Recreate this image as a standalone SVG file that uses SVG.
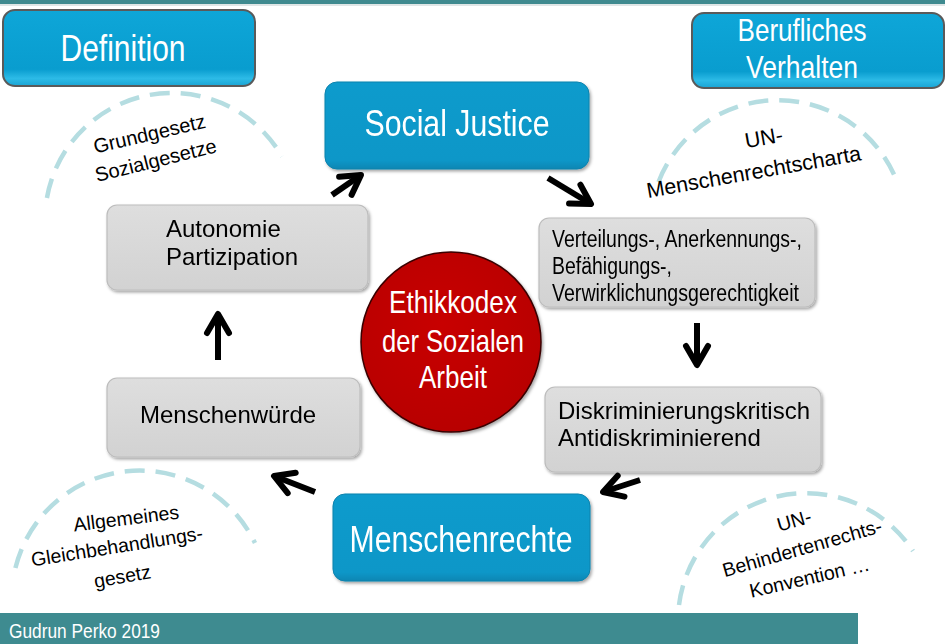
<svg xmlns="http://www.w3.org/2000/svg" width="945" height="644" viewBox="0 0 945 644">
<style>
text{font-family:"Liberation Sans",Arial,sans-serif}
.wt{fill:#fff}
.bk{fill:#000}
.gbox{fill:url(#gg);stroke:#bdbdbd;stroke-width:1.2}
.bbox{fill:url(#bg);stroke:#0a82ad;stroke-width:1}
.hbox{fill:url(#hg);stroke:#5a5a5a;stroke-width:2}
.arc{fill:none;stroke:#b5dde1;stroke-width:4.5;stroke-dasharray:20 11}
.arr{fill:none;stroke:#000;stroke-width:6;marker-end:url(#ah)}
.at{font-size:20px;text-anchor:middle}
.gt{font-size:24px}
</style>
<defs>
<linearGradient id="gg" x1="0" y1="0" x2="0" y2="1"><stop offset="0" stop-color="#dedede"/><stop offset="1" stop-color="#d2d2d2"/></linearGradient>
<linearGradient id="bg" x1="0" y1="0" x2="0" y2="1"><stop offset="0" stop-color="#0a9bcc"/><stop offset="0.9" stop-color="#0897c8"/><stop offset="1" stop-color="#0786b3"/></linearGradient>
<linearGradient id="hg" x1="0" y1="0" x2="0" y2="1"><stop offset="0" stop-color="#0ea6d8"/><stop offset="0.78" stop-color="#099dcf"/><stop offset="0.9" stop-color="#2dbbe7"/><stop offset="1" stop-color="#1aa4d4"/></linearGradient>
<radialGradient id="rg" cx="0.45" cy="0.4" r="0.6"><stop offset="0" stop-color="#c80000"/><stop offset="1" stop-color="#b80000"/></radialGradient>
<filter id="sh" x="-10%" y="-10%" width="125%" height="130%"><feDropShadow dx="1.5" dy="2" stdDeviation="1.5" flood-color="#000" flood-opacity="0.35"/></filter>
<marker id="ah" markerUnits="userSpaceOnUse" markerWidth="50" markerHeight="50" viewBox="-35 -25 50 50" refX="0" refY="0" orient="auto" overflow="visible"><path d="M-19,-11 L0,0 L-19,11" fill="none" stroke="#000" stroke-width="6" stroke-linejoin="round" stroke-linecap="round"/></marker>
</defs>
<rect width="945" height="644" fill="#fff"/>
<rect x="0" y="0" width="945" height="4" fill="#3f8a8f"/>
<line x1="0" y1="5" x2="945" y2="5" stroke="#d5dede" stroke-width="1.5"/>

<g id="arcs">
<path class="arc" d="M46.9,198 A127,127 0 0,1 282,156.5"/>
<path class="arc" d="M658.5,182 A128,128 0 0,1 898,184"/>
<path class="arc" d="M15.4,568 A128,128 0 0,1 255,543"/>
<path class="arc" d="M679,605 A128,128 0 0,1 913,551"/>
</g>

<g id="definition">
<rect class="hbox" x="3" y="10" width="252" height="76" rx="12"/>
<text class="wt" x="123" y="61" font-size="36" text-anchor="middle" textLength="125" lengthAdjust="spacingAndGlyphs">Definition</text>
</g>
<g id="berufliches-verhalten">
<rect class="hbox" x="692" y="13" width="252" height="75" rx="12"/>
<text class="wt" x="802" y="41" font-size="32" text-anchor="middle" textLength="129" lengthAdjust="spacingAndGlyphs">Berufliches</text>
<text class="wt" x="802" y="78" font-size="32" text-anchor="middle" textLength="112" lengthAdjust="spacingAndGlyphs">Verhalten</text>
</g>

<g id="label-definition">
<text class="at" transform="rotate(-13 151 140.5)" x="151" y="140.5">Grundgesetz</text>
<text class="at" transform="rotate(-14 157.5 167)" x="157.5" y="167">Sozialgesetze</text>
</g>
<g id="label-un-charta">
<text class="at" style="font-size:21.5px" transform="rotate(-10 765 145)" x="765" y="145">UN-</text>
<text class="at" style="font-size:21.5px" transform="rotate(-10 755 179)" x="755" y="179">Menschenrechtscharta</text>
</g>
<g id="label-agg">
<text class="at" style="font-size:19.5px" transform="rotate(-7 127 525)" x="127" y="525">Allgemeines</text>
<text class="at" style="font-size:19.5px" transform="rotate(-9 118 553)" x="118" y="553">Gleichbehandlungs-</text>
<text class="at" style="font-size:19.5px" transform="rotate(-10 123.5 583)" x="123.5" y="583">gesetz</text>
</g>
<g id="label-brk">
<text class="at" style="font-size:19.5px" transform="rotate(-16 796 527)" x="796" y="527">UN-</text>
<text class="at" style="font-size:19.5px" transform="rotate(-16 804 554.5)" x="804" y="554.5">Behindertenrechts-</text>
<text class="at" style="font-size:19.5px" transform="rotate(-13 811 584)" x="811" y="584">Konvention …</text>
</g>

<g id="social-justice" filter="url(#sh)">
<rect class="bbox" x="325" y="82" width="264" height="87" rx="12"/>
<text class="wt" x="457" y="136" font-size="36" text-anchor="middle" textLength="185" lengthAdjust="spacingAndGlyphs">Social Justice</text>
</g>
<g id="gerechtigkeit" filter="url(#sh)">
<rect class="gbox" x="539" y="218" width="276" height="89" rx="10"/>
<text class="bk" x="552" y="247" font-size="23.5" textLength="250" lengthAdjust="spacingAndGlyphs">Verteilungs-, Anerkennungs-,</text>
<text class="bk" x="552" y="274" font-size="23.5" textLength="120" lengthAdjust="spacingAndGlyphs">Befähigungs-,</text>
<text class="bk" x="552" y="301" font-size="23.5" textLength="247" lengthAdjust="spacingAndGlyphs">Verwirklichungsgerechtigkeit</text>
</g>
<g id="diskriminierung" filter="url(#sh)">
<rect class="gbox" x="545" y="387" width="276" height="85" rx="10"/>
<text class="bk gt" x="558" y="419">Diskriminierungskritisch</text>
<text class="bk gt" x="558" y="446">Antidiskriminierend</text>
</g>
<g id="menschenrechte" filter="url(#sh)">
<rect class="bbox" x="333" y="494" width="257" height="87" rx="12"/>
<text class="wt" x="461" y="552" font-size="37" text-anchor="middle" textLength="223" lengthAdjust="spacingAndGlyphs">Menschenrechte</text>
</g>
<g id="menschenwuerde" filter="url(#sh)">
<rect class="gbox" x="107" y="378" width="253" height="79" rx="10"/>
<text class="bk gt" x="140" y="423">Menschenwürde</text>
</g>
<g id="autonomie" filter="url(#sh)">
<rect class="gbox" x="107" y="205" width="261" height="85" rx="10"/>
<text class="bk gt" x="166" y="237">Autonomie</text>
<text class="bk gt" x="166" y="265">Partizipation</text>
</g>
<g id="ethikkodex">
<circle cx="451" cy="342" r="90" fill="url(#rg)" stroke="#3a0000" stroke-width="1.5" filter="url(#sh)"/>
<text class="wt" x="453" y="313" font-size="32" text-anchor="middle" textLength="128" lengthAdjust="spacingAndGlyphs">Ethikkodex</text>
<text class="wt" x="453" y="352" font-size="32" text-anchor="middle" textLength="142" lengthAdjust="spacingAndGlyphs">der Sozialen</text>
<text class="wt" x="453" y="388" font-size="32" text-anchor="middle" textLength="68" lengthAdjust="spacingAndGlyphs">Arbeit</text>
</g>

<g id="connectors">
<line class="arr" x1="332" y1="195" x2="361" y2="175"/>
<line class="arr" x1="548" y1="178" x2="591" y2="204"/>
<line class="arr" x1="697" y1="323" x2="697" y2="365"/>
<line class="arr" x1="640" y1="480" x2="603" y2="492"/>
<line class="arr" x1="315" y1="492" x2="274" y2="476"/>
<line class="arr" x1="218" y1="360" x2="218" y2="314"/>
</g>

<g id="footer">
<rect x="0" y="613" width="858" height="31" fill="#3e8b90"/>
<text class="wt" x="9" y="638" font-size="21" textLength="151" lengthAdjust="spacingAndGlyphs">Gudrun Perko 2019</text>
</g>
</svg>
